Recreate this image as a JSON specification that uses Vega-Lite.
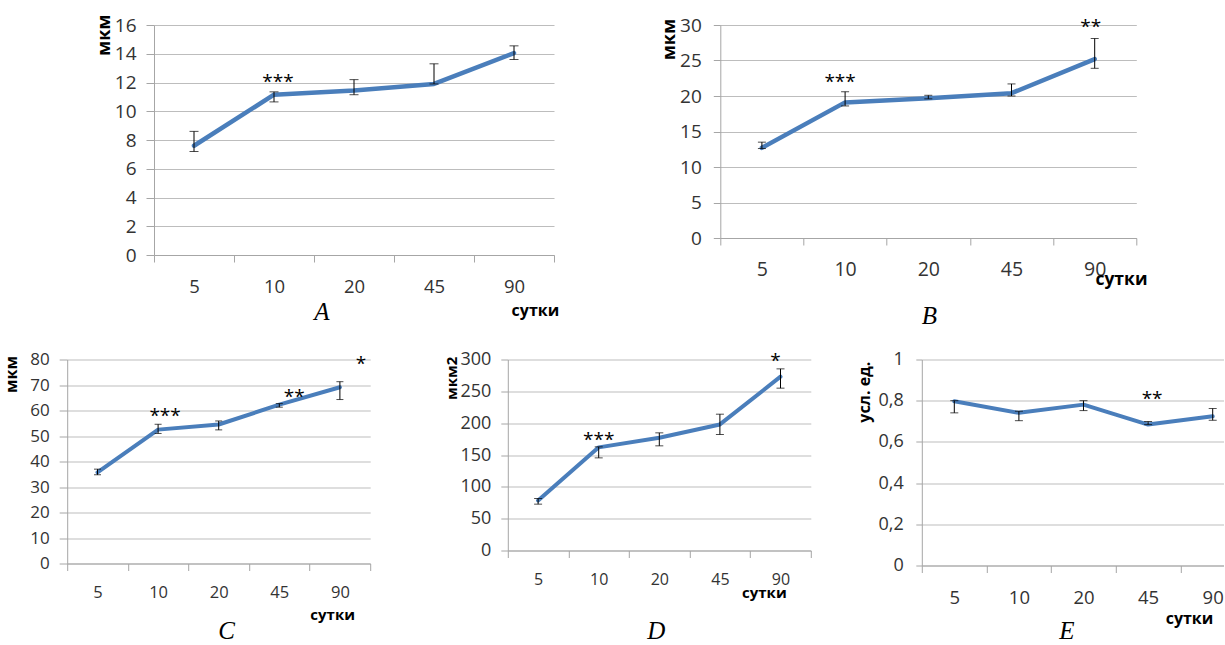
{
  "$schema": "https://vega.github.io/schema/vega-lite/v6.json",
  "usermeta": {"embedOptions": {"actions": false}},
  "padding": {"top": 14, "left": 3, "right": -10, "bottom": 0},
  "config": {
    "view": {"stroke": null},
    "font": "Open Sans",
    "axis": {
      "labelFont": "Open Sans", "titleFont": "Open Sans", "labelColor": "#333333", "titleColor": "#000000",
      "titleFontWeight": "bold", "domainColor": "#a6a6a6", "tickColor": "#a6a6a6", "gridColor": "#bdbdbd",
      "domainWidth": 1, "tickWidth": 1, "gridWidth": 1, "labelOverlap": false
    },
    "title": {"font": "Liberation Serif", "fontStyle": "italic", "fontWeight": "normal", "fontSize": 25, "color": "#000000"},
    "text": {"font": "Open Sans", "fontSize": 19, "color": "#000000", "baseline": "middle", "dy": 6},
    "line": {"color": "#4a7ebb", "strokeJoin": "round", "strokeCap": "round"},
    "rule": {"color": "#000000", "strokeWidth": 1},
    "tick": {"color": "#000000", "thickness": 1}
  },
  "datasets": {
    "A": [{"day": 5, "value": 7.6, "lo": 7.2, "hi": 8.6}, {"day": 10, "value": 11.15, "lo": 10.65, "hi": 11.35}, {"day": 20, "value": 11.45, "lo": 11.15, "hi": 12.2}, {"day": 45, "value": 11.9, "lo": 11.9, "hi": 13.3}, {"day": 90, "value": 14.05, "lo": 13.6, "hi": 14.55}],
    "B": [{"day": 5, "value": 12.7, "lo": 12.6, "hi": 13.5}, {"day": 10, "value": 19.1, "lo": 18.6, "hi": 20.6}, {"day": 20, "value": 19.7, "lo": 19.6, "hi": 20.1}, {"day": 45, "value": 20.4, "lo": 20.0, "hi": 21.7}, {"day": 90, "value": 25.2, "lo": 23.9, "hi": 28.1}],
    "C": [{"day": 5, "value": 35.7, "lo": 34.8, "hi": 37.0}, {"day": 10, "value": 52.5, "lo": 51.0, "hi": 54.6}, {"day": 20, "value": 54.5, "lo": 52.4, "hi": 55.9}, {"day": 45, "value": 62.3, "lo": 61.3, "hi": 62.7}, {"day": 90, "value": 69.1, "lo": 64.3, "hi": 71.3}],
    "D": [{"day": 5, "value": 78.5, "lo": 72.8, "hi": 81.7}, {"day": 10, "value": 162, "lo": 145.5, "hi": 162.8}, {"day": 20, "value": 177, "lo": 164.4, "hi": 184.8}, {"day": 45, "value": 198, "lo": 182.2, "hi": 214.1}, {"day": 90, "value": 273, "lo": 255, "hi": 285.3}],
    "E": [{"day": 5, "value": 0.797, "lo": 0.741, "hi": 0.8}, {"day": 10, "value": 0.741, "lo": 0.703, "hi": 0.749}, {"day": 20, "value": 0.781, "lo": 0.752, "hi": 0.8}, {"day": 45, "value": 0.684, "lo": 0.684, "hi": 0.699}, {"day": 90, "value": 0.724, "lo": 0.705, "hi": 0.762}]
  },
  "vconcat": [
    {
      "concat": [
        {
          "width": 400, "height": 230,
          "title": {"text": "A", "orient": "bottom", "anchor": "middle", "frame": "group", "baseline": "alphabetic", "offset": 1.5, "dx": -32},
          "encoding": {
            "x": {"field": "day", "type": "ordinal", "scale": {"type": "band", "paddingInner": 0, "paddingOuter": 0},
              "axis": {"title": "сутки", "titleX": 404.7, "titleY": 60.7, "titleAlign": "right", "titleBaseline": "alphabetic", "titleFontSize": 16,
                "labelAngle": 0, "labelFontSize": 18.5, "labelPadding": 15, "tickSize": 7, "tickBand": "extent", "grid": false}}
          },
          "layer": [
            {"data": {"name": "A"}, "mark": {"type": "line", "strokeWidth": 4.5},
              "encoding": {"y": {"field": "value", "type": "quantitative", "scale": {"domain": [0, 16], "nice": false},
                "axis": {"title": "мкм", "titleX": -50, "titleY": -11, "titleAngle": 270, "titleAlign": "right", "titleBaseline": "middle", "titleFontSize": 18,
                  "values": [0, 2, 4, 6, 8, 10, 12, 14, 16], "tickCount": 20, "labelOverlap": false, "grid": true, "tickSize": 8, "labelPadding": 10, "labelFontSize": 19}}}},
            {"data": {"name": "A"}, "mark": {"type": "rule"},
              "encoding": {"y": {"field": "lo", "type": "quantitative", "scale": {"domain": [0, 16], "nice": false}}, "y2": {"field": "hi"}}},
            {"data": {"name": "A"}, "mark": {"type": "tick", "size": 9},
              "encoding": {"y": {"field": "lo", "type": "quantitative", "scale": {"domain": [0, 16], "nice": false}}}},
            {"data": {"name": "A"}, "mark": {"type": "tick", "size": 9},
              "encoding": {"y": {"field": "hi", "type": "quantitative", "scale": {"domain": [0, 16], "nice": false}}}},
            {"data": {"values": [{"day": 10, "y": 12.43, "label": "***"}]}, "mark": {"type": "text", "dx": 4},
              "encoding": {"y": {"field": "y", "type": "quantitative", "scale": {"domain": [0, 16], "nice": false}}, "text": {"field": "label"}}}
          ]
        },
        {
          "width": 416, "height": 213,
          "title": {"text": "B", "orient": "bottom", "anchor": "middle", "frame": "group", "baseline": "alphabetic", "offset": 36, "dx": 1},
          "encoding": {
            "x": {"field": "day", "type": "ordinal", "scale": {"type": "band", "paddingInner": 0, "paddingOuter": 0},
              "axis": {"title": "сутки", "titleX": 426.7, "titleY": 46.7, "titleAlign": "right", "titleBaseline": "alphabetic", "titleFontSize": 17.5,
                "labelAngle": 0, "labelFontSize": 19.5, "labelPadding": 15, "tickSize": 7, "tickBand": "extent", "grid": false}}
          },
          "layer": [
            {"data": {"name": "B"}, "mark": {"type": "line", "strokeWidth": 4.5},
              "encoding": {"y": {"field": "value", "type": "quantitative", "scale": {"domain": [0, 30], "nice": false},
                "axis": {"title": "мкм", "titleX": -51, "titleY": -6.7, "titleAngle": 270, "titleAlign": "right", "titleBaseline": "middle", "titleFontSize": 18,
                  "values": [0, 5, 10, 15, 20, 25, 30], "tickCount": 20, "labelOverlap": false, "grid": true, "tickSize": 7, "labelPadding": 12, "labelFontSize": 19}}}},
            {"data": {"name": "B"}, "mark": {"type": "rule"},
              "encoding": {"y": {"field": "lo", "type": "quantitative", "scale": {"domain": [0, 30], "nice": false}}, "y2": {"field": "hi"}}},
            {"data": {"name": "B"}, "mark": {"type": "tick", "size": 8},
              "encoding": {"y": {"field": "lo", "type": "quantitative", "scale": {"domain": [0, 30], "nice": false}}}},
            {"data": {"name": "B"}, "mark": {"type": "tick", "size": 8},
              "encoding": {"y": {"field": "hi", "type": "quantitative", "scale": {"domain": [0, 30], "nice": false}}}},
            {"data": {"values": [{"day": 10, "y": 22.88, "label": "***"}]}, "mark": {"type": "text", "dx": -5},
              "encoding": {"y": {"field": "y", "type": "quantitative", "scale": {"domain": [0, 30], "nice": false}}, "text": {"field": "label"}}},
            {"data": {"values": [{"day": 90, "y": 30.56, "label": "**"}]}, "mark": {"type": "text", "dx": -4},
              "encoding": {"y": {"field": "y", "type": "quantitative", "scale": {"domain": [0, 30], "nice": false}}, "text": {"field": "label"}}}
          ]
        }
      ],
      "columns": 2, "align": "none", "bounds": "flush", "spacing": 166.3
    },
    {
      "concat": [
        {
          "width": 303, "height": 204,
          "title": {"text": "C", "orient": "bottom", "anchor": "middle", "frame": "group", "baseline": "alphabetic", "offset": 17, "dx": 8},
          "encoding": {
            "x": {"field": "day", "type": "ordinal", "scale": {"type": "band", "paddingInner": 0, "paddingOuter": 0},
              "axis": {"title": "сутки", "titleX": 287.3, "titleY": 55.7, "titleAlign": "right", "titleBaseline": "alphabetic", "titleFontSize": 15,
                "labelAngle": 0, "labelFontSize": 16.5, "labelPadding": 14, "tickSize": 7, "tickBand": "extent", "grid": false}}
          },
          "layer": [
            {"data": {"name": "C"}, "mark": {"type": "line", "strokeWidth": 4},
              "encoding": {"y": {"field": "value", "type": "quantitative", "scale": {"domain": [0, 80], "nice": false},
                "axis": {"title": "мкм", "titleX": -56, "titleY": -4, "titleAngle": 270, "titleAlign": "right", "titleBaseline": "middle", "titleFontSize": 16,
                  "values": [0, 10, 20, 30, 40, 50, 60, 70, 80], "tickCount": 20, "labelOverlap": false, "grid": true, "tickSize": 8, "labelPadding": 10, "labelFontSize": 17}}}},
            {"data": {"name": "C"}, "mark": {"type": "rule"},
              "encoding": {"y": {"field": "lo", "type": "quantitative", "scale": {"domain": [0, 80], "nice": false}}, "y2": {"field": "hi"}}},
            {"data": {"name": "C"}, "mark": {"type": "tick", "size": 7},
              "encoding": {"y": {"field": "lo", "type": "quantitative", "scale": {"domain": [0, 80], "nice": false}}}},
            {"data": {"name": "C"}, "mark": {"type": "tick", "size": 7},
              "encoding": {"y": {"field": "hi", "type": "quantitative", "scale": {"domain": [0, 80], "nice": false}}}},
            {"data": {"values": [{"day": 10, "y": 60.2, "label": "***"}]}, "mark": {"type": "text", "dx": 7},
              "encoding": {"y": {"field": "y", "type": "quantitative", "scale": {"domain": [0, 80], "nice": false}}, "text": {"field": "label"}}},
            {"data": {"values": [{"day": 45, "y": 67.8, "label": "**"}]}, "mark": {"type": "text", "dx": 15},
              "encoding": {"y": {"field": "y", "type": "quantitative", "scale": {"domain": [0, 80], "nice": false}}, "text": {"field": "label"}}},
            {"data": {"values": [{"day": 90, "y": 80.5, "label": "*"}]}, "mark": {"type": "text", "dx": 21},
              "encoding": {"y": {"field": "y", "type": "quantitative", "scale": {"domain": [0, 80], "nice": false}}, "text": {"field": "label"}}}
          ]
        },
        {
          "concat": [
            {
              "width": 303, "height": 191,
              "title": {"text": "D", "orient": "bottom", "anchor": "middle", "frame": "group", "baseline": "alphabetic", "offset": 38.2, "dx": -3},
              "encoding": {
                "x": {"field": "day", "type": "ordinal", "scale": {"type": "band", "paddingInner": 0, "paddingOuter": 0},
                  "axis": {"title": "сутки", "titleX": 278.4, "titleY": 47.3, "titleAlign": "right", "titleBaseline": "alphabetic", "titleFontSize": 15,
                    "labelAngle": 0, "labelFontSize": 16, "labelPadding": 14, "tickSize": 7, "tickBand": "extent", "grid": false}}
              },
              "layer": [
                {"data": {"name": "D"}, "mark": {"type": "line", "strokeWidth": 4},
                  "encoding": {"y": {"field": "value", "type": "quantitative", "scale": {"domain": [0, 300], "nice": false},
                    "axis": {"title": "мкм2", "titleX": -56.6, "titleY": -3.3, "titleAngle": 270, "titleAlign": "right", "titleBaseline": "middle", "titleFontSize": 15,
                      "values": [0, 50, 100, 150, 200, 250, 300], "tickCount": 20, "labelOverlap": false, "grid": true, "tickSize": 7, "labelPadding": 10, "labelFontSize": 18}}}},
                {"data": {"name": "D"}, "mark": {"type": "rule"},
                  "encoding": {"y": {"field": "lo", "type": "quantitative", "scale": {"domain": [0, 300], "nice": false}}, "y2": {"field": "hi"}}},
                {"data": {"name": "D"}, "mark": {"type": "tick", "size": 8},
                  "encoding": {"y": {"field": "lo", "type": "quantitative", "scale": {"domain": [0, 300], "nice": false}}}},
                {"data": {"name": "D"}, "mark": {"type": "tick", "size": 8},
                  "encoding": {"y": {"field": "hi", "type": "quantitative", "scale": {"domain": [0, 300], "nice": false}}}},
                {"data": {"values": [{"day": 10, "y": 183.3, "label": "***"}]}, "mark": {"type": "text", "dx": 0},
                  "encoding": {"y": {"field": "y", "type": "quantitative", "scale": {"domain": [0, 300], "nice": false}}, "text": {"field": "label"}}},
                {"data": {"values": [{"day": 90, "y": 306.3, "label": "*"}]}, "mark": {"type": "text", "dx": -5},
                  "encoding": {"y": {"field": "y", "type": "quantitative", "scale": {"domain": [0, 300], "nice": false}}, "text": {"field": "label"}}}
              ]
            },
            {
              "width": 312, "height": 206,
              "title": {"text": "E", "orient": "bottom", "anchor": "middle", "frame": "group", "baseline": "alphabetic", "offset": 12.3, "dx": -11},
              "encoding": {
                "x": {"field": "day", "type": "ordinal", "scale": {"type": "point", "padding": 0.41486, "align": 0.6063},
                  "axis": {"title": "сутки", "titleX": 291, "titleY": 58.3, "titleAlign": "right", "titleBaseline": "alphabetic", "titleFontSize": 16,
                    "labelAngle": 0, "labelFontSize": 18.5, "labelPadding": 16, "tickSize": 7, "tickOffset": -32.3, "labelOffset": 32.3, "grid": false}}
              },
              "layer": [
                {"data": {"name": "E"}, "mark": {"type": "line", "strokeWidth": 4},
                  "encoding": {"y": {"field": "value", "type": "quantitative", "scale": {"domain": [0, 1], "nice": false},
                    "axis": {"title": "усл. ед.", "titleX": -57.3, "titleY": 1.7, "titleAngle": 270, "titleAlign": "right", "titleBaseline": "middle", "titleFontSize": 16,
                      "values": [0, 0.2, 0.4, 0.6, 0.8, 1], "tickCount": 20, "labelOverlap": false, "format": "~g", "labelExpr": "replace(datum.label, '.', ',')", "grid": true, "tickSize": 6, "labelPadding": 12.5, "labelFontSize": 18}}}},
                {"data": {"name": "E"}, "mark": {"type": "rule"},
                  "encoding": {"y": {"field": "lo", "type": "quantitative", "scale": {"domain": [0, 1], "nice": false}}, "y2": {"field": "hi"}}},
                {"data": {"name": "E"}, "mark": {"type": "tick", "size": 8},
                  "encoding": {"y": {"field": "lo", "type": "quantitative", "scale": {"domain": [0, 1], "nice": false}}}},
                {"data": {"name": "E"}, "mark": {"type": "tick", "size": 8},
                  "encoding": {"y": {"field": "hi", "type": "quantitative", "scale": {"domain": [0, 1], "nice": false}}}},
                {"data": {"values": [{"day": 45, "y": 0.835, "label": "**"}]}, "mark": {"type": "text", "dx": 4},
                  "encoding": {"y": {"field": "y", "type": "quantitative", "scale": {"domain": [0, 1], "nice": false}}, "text": {"field": "label"}}}
              ]
            }
          ],
          "columns": 2, "align": "none", "bounds": "flush", "spacing": 111
        }
      ],
      "columns": 2, "align": "none", "bounds": "flush", "spacing": 137.6
    }
  ],
  "spacing": 20.5,
  "center": true
}
